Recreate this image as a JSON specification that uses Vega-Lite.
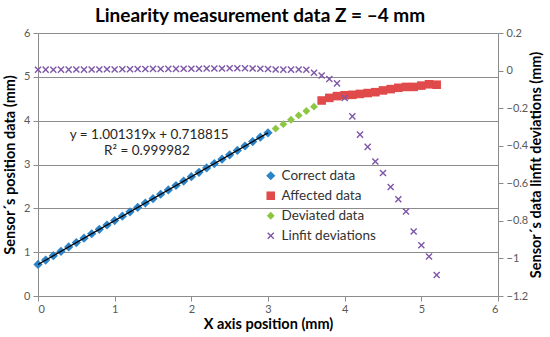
{
  "$schema": "https://vega.github.io/schema/vega-lite/v6.json",
  "width": 460,
  "height": 263,
  "autosize": "none",
  "padding": {"left": 38, "top": 33, "right": 52, "bottom": 41},
  "background": "white",
  "title": {"text": "Linearity measurement data Z = –4 mm", "font": "Lato", "fontSize": 19, "fontWeight": "bold", "color": "#000000", "anchor": "middle", "dx": -8, "offset": 1},
  "config": {
    "font": "Lato",
    "view": {"stroke": null},
    "axis": {"domainColor": "#8c8c8c", "tickColor": "#8c8c8c", "gridColor": "#8c8c8c", "labelColor": "#595959", "labelFont": "Lato", "labelFontSize": 11, "titleFont": "Lato", "titleFontSize": 14.5, "titleFontWeight": "bold", "titleColor": "#000000", "tickSize": 5, "labelPadding": 3, "domainWidth": 1, "gridWidth": 1},
    "legend": {"orient": "none", "legendX": 226, "legendY": 136, "labelFont": "Lato", "labelFontSize": 13.5, "labelColor": "#333333", "symbolSize": 80, "rowPadding": 5, "padding": 0, "symbolOffset": 0, "title": null}
  },
  "datasets": {
    "pts": [
      {"x": 0.0, "y": 0.719, "series": "Correct data"},
      {"x": 0.1, "y": 0.819, "series": "Correct data"},
      {"x": 0.2, "y": 0.919, "series": "Correct data"},
      {"x": 0.3, "y": 1.019, "series": "Correct data"},
      {"x": 0.4, "y": 1.119, "series": "Correct data"},
      {"x": 0.5, "y": 1.219, "series": "Correct data"},
      {"x": 0.6, "y": 1.320, "series": "Correct data"},
      {"x": 0.7, "y": 1.420, "series": "Correct data"},
      {"x": 0.8, "y": 1.520, "series": "Correct data"},
      {"x": 0.9, "y": 1.620, "series": "Correct data"},
      {"x": 1.0, "y": 1.720, "series": "Correct data"},
      {"x": 1.1, "y": 1.820, "series": "Correct data"},
      {"x": 1.2, "y": 1.920, "series": "Correct data"},
      {"x": 1.3, "y": 2.021, "series": "Correct data"},
      {"x": 1.4, "y": 2.121, "series": "Correct data"},
      {"x": 1.5, "y": 2.221, "series": "Correct data"},
      {"x": 1.6, "y": 2.321, "series": "Correct data"},
      {"x": 1.7, "y": 2.421, "series": "Correct data"},
      {"x": 1.8, "y": 2.521, "series": "Correct data"},
      {"x": 1.9, "y": 2.621, "series": "Correct data"},
      {"x": 2.0, "y": 2.721, "series": "Correct data"},
      {"x": 2.1, "y": 2.822, "series": "Correct data"},
      {"x": 2.2, "y": 2.922, "series": "Correct data"},
      {"x": 2.3, "y": 3.022, "series": "Correct data"},
      {"x": 2.4, "y": 3.122, "series": "Correct data"},
      {"x": 2.5, "y": 3.222, "series": "Correct data"},
      {"x": 2.6, "y": 3.322, "series": "Correct data"},
      {"x": 2.7, "y": 3.422, "series": "Correct data"},
      {"x": 2.8, "y": 3.522, "series": "Correct data"},
      {"x": 2.9, "y": 3.623, "series": "Correct data"},
      {"x": 3.0, "y": 3.723, "series": "Correct data"},
      {"x": 3.7, "y": 4.46, "series": "Affected data"},
      {"x": 3.8, "y": 4.52, "series": "Affected data"},
      {"x": 3.9, "y": 4.56, "series": "Affected data"},
      {"x": 4.0, "y": 4.58, "series": "Affected data"},
      {"x": 4.1, "y": 4.59, "series": "Affected data"},
      {"x": 4.2, "y": 4.61, "series": "Affected data"},
      {"x": 4.3, "y": 4.63, "series": "Affected data"},
      {"x": 4.4, "y": 4.65, "series": "Affected data"},
      {"x": 4.5, "y": 4.69, "series": "Affected data"},
      {"x": 4.6, "y": 4.72, "series": "Affected data"},
      {"x": 4.7, "y": 4.75, "series": "Affected data"},
      {"x": 4.8, "y": 4.77, "series": "Affected data"},
      {"x": 4.9, "y": 4.77, "series": "Affected data"},
      {"x": 5.0, "y": 4.80, "series": "Affected data"},
      {"x": 5.1, "y": 4.83, "series": "Affected data"},
      {"x": 5.2, "y": 4.82, "series": "Affected data"},
      {"x": 3.1, "y": 3.82, "series": "Deviated data"},
      {"x": 3.2, "y": 3.92, "series": "Deviated data"},
      {"x": 3.3, "y": 4.02, "series": "Deviated data"},
      {"x": 3.4, "y": 4.12, "series": "Deviated data"},
      {"x": 3.5, "y": 4.22, "series": "Deviated data"},
      {"x": 3.6, "y": 4.32, "series": "Deviated data"}
    ],
    "fit": [
      {"x": 0.0, "y": 0.7188},
      {"x": 3.0, "y": 3.7228}
    ],
    "eq": [
      {"x": 1.45, "y": 3.68, "label": "y = 1.001319x + 0.718815"},
      {"x": 1.42, "y": 3.31, "label": "R² = 0.999982"}
    ],
    "dev": [
      {"x": 0.0, "d": 0.004, "series": "Linfit deviations"},
      {"x": 0.1, "d": 0.005, "series": "Linfit deviations"},
      {"x": 0.2, "d": 0.004, "series": "Linfit deviations"},
      {"x": 0.3, "d": 0.005, "series": "Linfit deviations"},
      {"x": 0.4, "d": 0.005, "series": "Linfit deviations"},
      {"x": 0.5, "d": 0.006, "series": "Linfit deviations"},
      {"x": 0.6, "d": 0.005, "series": "Linfit deviations"},
      {"x": 0.7, "d": 0.006, "series": "Linfit deviations"},
      {"x": 0.8, "d": 0.006, "series": "Linfit deviations"},
      {"x": 0.9, "d": 0.007, "series": "Linfit deviations"},
      {"x": 1.0, "d": 0.006, "series": "Linfit deviations"},
      {"x": 1.1, "d": 0.007, "series": "Linfit deviations"},
      {"x": 1.2, "d": 0.007, "series": "Linfit deviations"},
      {"x": 1.3, "d": 0.008, "series": "Linfit deviations"},
      {"x": 1.4, "d": 0.008, "series": "Linfit deviations"},
      {"x": 1.5, "d": 0.009, "series": "Linfit deviations"},
      {"x": 1.6, "d": 0.008, "series": "Linfit deviations"},
      {"x": 1.7, "d": 0.009, "series": "Linfit deviations"},
      {"x": 1.8, "d": 0.009, "series": "Linfit deviations"},
      {"x": 1.9, "d": 0.010, "series": "Linfit deviations"},
      {"x": 2.0, "d": 0.010, "series": "Linfit deviations"},
      {"x": 2.1, "d": 0.010, "series": "Linfit deviations"},
      {"x": 2.2, "d": 0.011, "series": "Linfit deviations"},
      {"x": 2.3, "d": 0.011, "series": "Linfit deviations"},
      {"x": 2.4, "d": 0.011, "series": "Linfit deviations"},
      {"x": 2.5, "d": 0.012, "series": "Linfit deviations"},
      {"x": 2.6, "d": 0.012, "series": "Linfit deviations"},
      {"x": 2.7, "d": 0.012, "series": "Linfit deviations"},
      {"x": 2.8, "d": 0.011, "series": "Linfit deviations"},
      {"x": 2.9, "d": 0.010, "series": "Linfit deviations"},
      {"x": 3.0, "d": 0.008, "series": "Linfit deviations"},
      {"x": 3.1, "d": 0.006, "series": "Linfit deviations"},
      {"x": 3.2, "d": 0.005, "series": "Linfit deviations"},
      {"x": 3.3, "d": 0.005, "series": "Linfit deviations"},
      {"x": 3.4, "d": 0.006, "series": "Linfit deviations"},
      {"x": 3.5, "d": 0.004, "series": "Linfit deviations"},
      {"x": 3.6, "d": -0.012, "series": "Linfit deviations"},
      {"x": 3.7, "d": -0.026, "series": "Linfit deviations"},
      {"x": 3.8, "d": -0.045, "series": "Linfit deviations"},
      {"x": 3.9, "d": -0.068, "series": "Linfit deviations"},
      {"x": 4.0, "d": -0.146, "series": "Linfit deviations"},
      {"x": 4.1, "d": -0.244, "series": "Linfit deviations"},
      {"x": 4.2, "d": -0.341, "series": "Linfit deviations"},
      {"x": 4.3, "d": -0.406, "series": "Linfit deviations"},
      {"x": 4.4, "d": -0.484, "series": "Linfit deviations"},
      {"x": 4.5, "d": -0.545, "series": "Linfit deviations"},
      {"x": 4.6, "d": -0.62, "series": "Linfit deviations"},
      {"x": 4.7, "d": -0.685, "series": "Linfit deviations"},
      {"x": 4.8, "d": -0.75, "series": "Linfit deviations"},
      {"x": 4.9, "d": -0.857, "series": "Linfit deviations"},
      {"x": 5.0, "d": -0.93, "series": "Linfit deviations"},
      {"x": 5.1, "d": -0.99, "series": "Linfit deviations"},
      {"x": 5.2, "d": -1.088, "series": "Linfit deviations"}
    ]
  },
  "layer": [
    {
      "layer": [
        {
          "data": {"name": "pts"},
          "mark": {"type": "point", "filled": true, "opacity": 1},
          "encoding": {
            "x": {"field": "x", "type": "quantitative", "scale": {"domain": [0, 6], "nice": false}, "axis": {"title": "X axis position (mm)", "values": [0, 1, 2, 3, 4, 5, 6], "format": "d", "grid": false, "labelPadding": 2, "titlePadding": 3}},
            "y": {"field": "y", "type": "quantitative", "scale": {"domain": [0, 6], "nice": false}, "axis": {"title": "Sensor´s position data (mm)", "values": [0, 1, 2, 3, 4, 5, 6], "format": "d", "grid": true, "orient": "left", "titlePadding": 6}},
            "color": {"field": "series", "type": "nominal", "sort": null, "scale": {"domain": ["Correct data", "Affected data", "Deviated data", "Linfit deviations"], "range": ["#2C84C8", "#E04A4A", "#8DC641", "#7E57A8"]}, "legend": {"title": null}},
            "shape": {"field": "series", "type": "nominal", "sort": null, "scale": {"domain": ["Correct data", "Affected data", "Deviated data", "Linfit deviations"], "range": ["diamond", "square", "diamond", "M-0.72,-1L1,0.72L0.72,1L-1,-0.72ZM0.72,-1L1,-0.72L-0.72,1L-1,0.72Z"]}, "legend": {"title": null}},
            "size": {"field": "series", "type": "nominal", "scale": {"domain": ["Correct data", "Affected data", "Deviated data", "Linfit deviations"], "range": [85, 50, 85, 120]}, "legend": null}
          }
        },
        {
          "data": {"name": "fit"},
          "mark": {"type": "line", "color": "#000000", "strokeWidth": 1.3},
          "encoding": {
            "x": {"field": "x", "type": "quantitative"},
            "y": {"field": "y", "type": "quantitative"}
          }
        },
        {
          "data": {"name": "eq"},
          "mark": {"type": "text", "font": "Lato", "fontSize": 13.5, "color": "#262626", "align": "center", "baseline": "middle"},
          "encoding": {
            "x": {"field": "x", "type": "quantitative"},
            "y": {"field": "y", "type": "quantitative"},
            "text": {"field": "label", "type": "nominal"}
          }
        }
      ]
    },
    {
      "data": {"name": "dev"},
      "mark": {"type": "point", "filled": true, "opacity": 1},
      "encoding": {
        "x": {"field": "x", "type": "quantitative"},
        "y": {"field": "d", "type": "quantitative", "scale": {"domain": [-1.2, 0.2], "nice": false, "zero": false}, "axis": {"title": "Sensor´s data linfit deviations (mm)", "orient": "right", "values": [-1.2, -1, -0.8, -0.6, -0.4, -0.2, 0, 0.2], "format": "~g", "grid": false, "titleAngle": 270, "titleBaseline": "top", "titlePadding": 2}},
        "color": {"field": "series", "type": "nominal", "sort": null, "legend": {"title": null}},
        "shape": {"field": "series", "type": "nominal", "sort": null, "legend": {"title": null}},
        "size": {"field": "series", "type": "nominal", "legend": null}
      }
    }
  ],
  "resolve": {"scale": {"y": "independent"}}
}
